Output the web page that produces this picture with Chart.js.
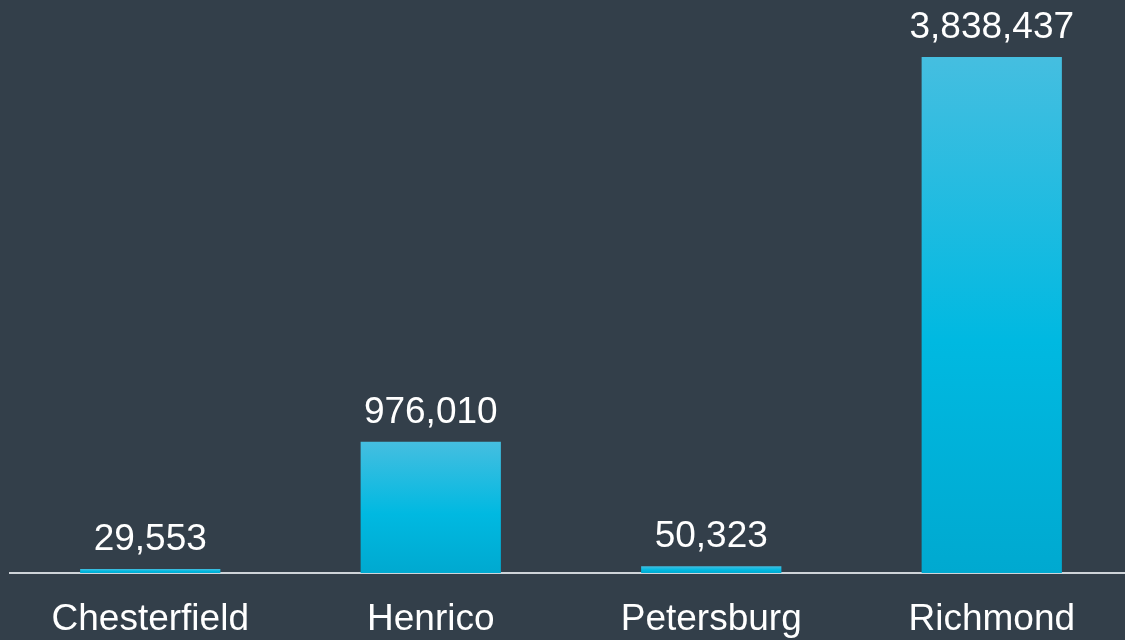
<!DOCTYPE html>
<html>
<head>
<meta charset="utf-8">
<script src="https://cdn.jsdelivr.net/npm/chart.js@4/dist/chart.umd.min.js"></script>
<style>
  html, body { margin: 0; padding: 0; background: #333f4a; overflow: hidden; }
  #wrap { width: 1125px; height: 640px; overflow: hidden; }
</style>
</head>
<body>
<div id="wrap"><canvas id="barChart" width="1132" height="640"></canvas></div>
<script>
const localities = ['Chesterfield', 'Henrico', 'Petersburg', 'Richmond'];
const totals = [29553, 976010, 50323, 3838437];

const FONT = '"Liberation Sans", Arial, sans-serif';

// vertical gradient per bar, lighter at the top
function barGradient(context) {
  const chart = context.chart;
  const yScale = chart.scales.y;
  if (!chart.chartArea || !yScale) return '#00b8e0';
  const top = yScale.getPixelForValue(context.raw);
  const base = yScale.getPixelForValue(0);
  if (!isFinite(top) || base - top < 1) return '#12b9e0';
  const g = chart.ctx.createLinearGradient(0, top, 0, base);
  g.addColorStop(0, '#45bee0');
  g.addColorStop(0.55, '#00b9e1');
  g.addColorStop(1, '#00a9d0');
  return g;
}

// value labels above bars (no datalabels plugin available offline)
const valueLabels = {
  id: 'valueLabels',
  afterDatasetsDraw(chart) {
    const ctx = chart.ctx;
    const meta = chart.getDatasetMeta(0);
    ctx.save();
    ctx.fillStyle = '#ffffff';
    ctx.font = '37px ' + FONT;
    ctx.textAlign = 'center';
    ctx.textBaseline = 'alphabetic';
    meta.data.forEach((bar, i) => {
      ctx.fillText(totals[i].toLocaleString('en-US'), bar.x, bar.y - 19);
    });
    ctx.restore();
  }
};

const ctx = document.getElementById('barChart').getContext('2d');
new Chart(ctx, {
  type: 'bar',
  data: {
    labels: localities,
    datasets: [{
      data: totals,
      backgroundColor: barGradient,
      borderWidth: 0,
      barPercentage: 0.5,
      categoryPercentage: 1.0
    }]
  },
  options: {
    responsive: false,
    animation: false,
    layout: { padding: { left: 10, right: 0, top: 0, bottom: 0 } },
    plugins: {
      legend: { display: false },
      tooltip: { enabled: false }
    },
    scales: {
      x: {
        grid: { display: false, drawTicks: false },
        border: { display: true, color: '#cfd4d9', width: 2 },
        ticks: {
          color: '#ffffff',
          padding: 25,
          font: { family: FONT, size: 37 }
        },
        afterFit(scale) {
          scale.height = 67; // keep the axis line at the same spot as the original
        }
      },
      y: {
        display: false,
        min: 0,
        max: 4262000
      }
    }
  },
  plugins: [valueLabels]
});
</script>
</body>
</html>
